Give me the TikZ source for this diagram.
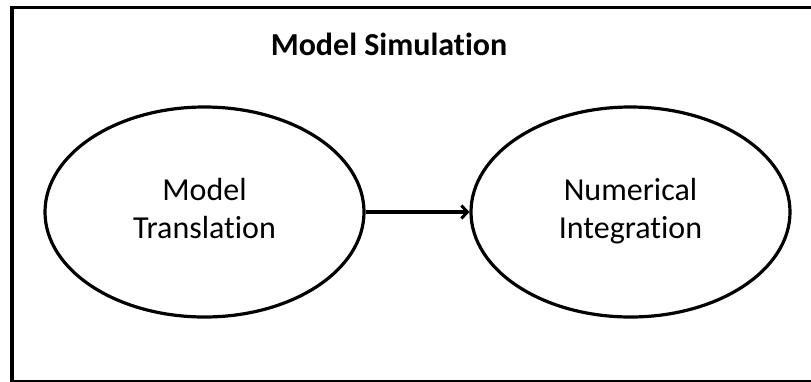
\documentclass[tikz,border=0pt]{standalone}
\usepackage{fontspec}
\setmainfont{Carlito}[Ligatures={NoCommon}]
\usetikzlibrary{shapes.geometric,arrows.meta}
\tikzset{
  proc/.style={ellipse, draw=black, line width=3.2pt, minimum width=319pt, minimum height=210pt, inner sep=0pt, align=center, font=\fontsize{32}{37.3}\selectfont},
  link/.style={line width=3.2pt, -{Straight Barb[length=6pt,width=13pt,line width=3pt]}},
}
\begin{document}
\begin{tikzpicture}[x=1pt,y=-1pt]
\useasboundingbox (0,0) rectangle (811,381);
\draw[line width=3.5pt] (12,7.5) rectangle (815,381.5);
\node[font=\bfseries\fontsize{32}{38}\selectfont, anchor=base] (title) at (389,55) {Model Simulation};
\node[proc] (mt) at (204.5,212) {\strut Model\\\strut Translation};
\node[proc] (ni) at (630.5,212) {\strut Numerical\\\strut Integration};
\draw[link] (mt.east) -- (ni.west);
\end{tikzpicture}
\end{document}
